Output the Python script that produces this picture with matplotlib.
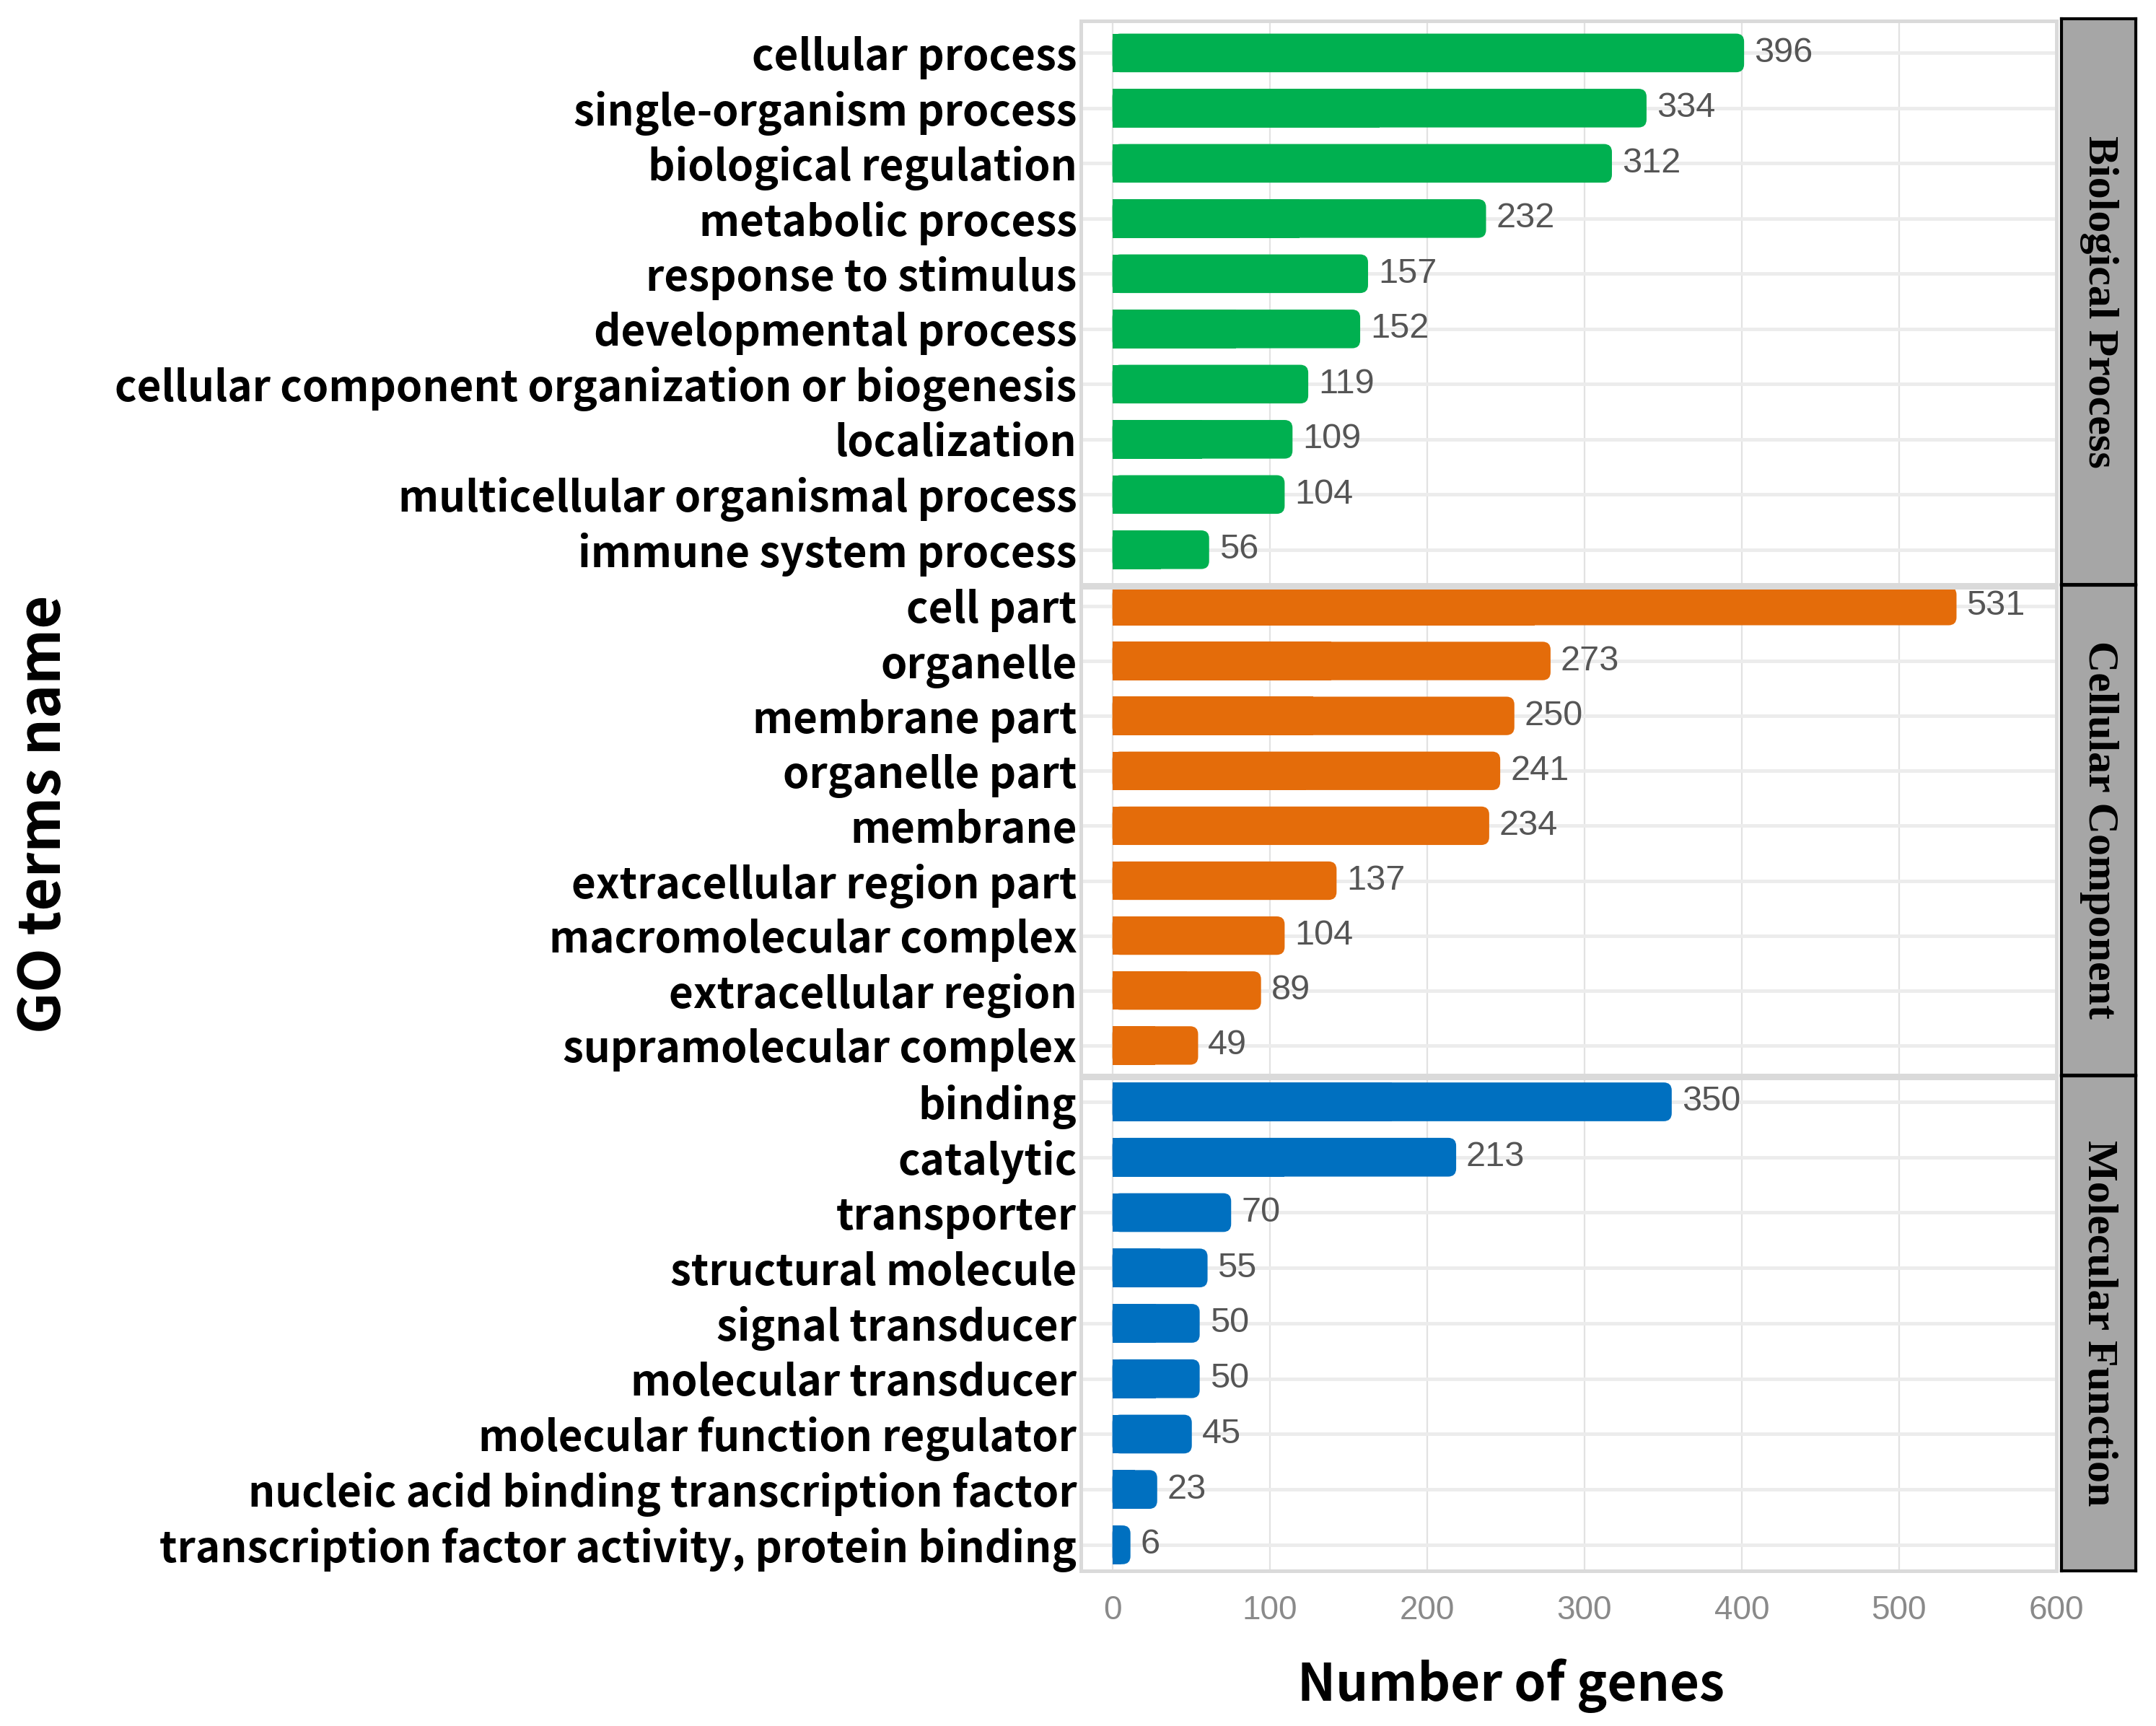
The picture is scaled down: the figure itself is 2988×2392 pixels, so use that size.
import matplotlib
matplotlib.use("Agg")
import matplotlib.pyplot as plt
from matplotlib.patches import FancyBboxPatch, Rectangle

# GO categories, top to bottom
bp_terms = ["cellular process", "single-organism process", "biological regulation",
            "metabolic process", "response to stimulus", "developmental process",
            "cellular component organization or biogenesis", "localization",
            "multicellular organismal process", "immune system process"]
bp_counts = [396, 334, 312, 232, 157, 152, 119, 109, 104, 56]

cc_terms = ["cell part", "organelle", "membrane part", "organelle part", "membrane",
            "extracellular region part", "macromolecular complex", "extracellular region",
            "supramolecular complex"]
cc_counts = [531, 273, 250, 241, 234, 137, 104, 89, 49]

mf_terms = ["binding", "catalytic", "transporter", "structural molecule", "signal transducer",
            "molecular transducer", "molecular function regulator",
            "nucleic acid binding transcription factor",
            "transcription factor activity, protein binding"]
mf_counts = [350, 213, 70, 55, 50, 50, 45, 23, 6]

categories = ["Biological Process", "Cellular Component", "Molecular Function"]
colors = ["#00B050", "#E46C0A", "#0070C0"]
x_ticks = [0, 100, 200, 300, 400, 500, 600]

W, H = 2988, 2392
fig = plt.figure(figsize=(W / 100, H / 100), dpi=100)
renderer = fig.canvas.get_renderer()

LABEL_FONT = ["Noto Sans CJK SC", "DejaVu Sans"]


def px_axes(left, top, right, bottom):
    return fig.add_axes([left / W, 1 - bottom / H, (right - left) / W, (bottom - top) / H])


def fit(text, target, vertical=False):
    bb = text.get_window_extent(renderer)
    size = bb.height if vertical else bb.width
    text.set_fontsize(text.get_fontsize() * target / size)
    return text.get_fontsize()


# panel boxes in pixels (top, bottom) and y-limits (rows are 0..n-1)
panel_x = (1498, 2850)
strip_x = (2857, 2960)
panels = [(29, 810, 9.63, -0.58), (814, 1490, 8.54, -0.34), (1494, 2177, 8.47, -0.43)]
groups = [(bp_terms, bp_counts), (cc_terms, cc_counts), (mf_terms, mf_counts)]

CAP = 5.5           # rounded end sticks out past the value
BAR_H = 0.7
px_per_x = (panel_x[1] - panel_x[0]) / 620.0
px_per_y = 76.5
rad_x = 11 / px_per_x
aspect = (11 / px_per_y) / rad_x

axes = []
strip_texts = []
for k, ((terms, counts), (top, bot, ylo, yhi)) in enumerate(zip(groups, panels)):
    ax = px_axes(panel_x[0], top, panel_x[1], bot)
    axes.append(ax)
    ax.set_xlim(-20, 600)
    ax.set_ylim(ylo, yhi)
    ax.set_axisbelow(True)
    ax.set_xticks(x_ticks)
    ax.set_yticks(range(len(terms)))
    ax.set_yticklabels(terms, fontweight="bold", family=LABEL_FONT, fontsize=40)
    ax.grid(axis="x", color="#e2e2e2", lw=1.6, zorder=0)
    ax.grid(axis="y", color="#ececec", lw=3.5, zorder=0)
    ax.tick_params(length=0, pad=4)
    for s in ax.spines.values():
        s.set_color("#dadada")
        s.set_linewidth(3.6)
    if k < 2:
        ax.set_xticklabels([])
    else:
        ax.tick_params(axis="x", pad=24, labelsize=33, labelcolor="#8a8a8a")
        for t in ax.get_xticklabels():
            t.set_family("Liberation Sans")

    for i, v in enumerate(counts):
        w = v + CAP
        ax.add_patch(FancyBboxPatch((0, i - BAR_H / 2), w, BAR_H,
                                    boxstyle=f"round,pad=0,rounding_size={min(rad_x, w / 2)}",
                                    mutation_aspect=aspect, fc=colors[k], ec="none", zorder=2))
        ax.add_patch(Rectangle((0, i - BAR_H / 2), w / 2, BAR_H, fc=colors[k], ec="none", zorder=2))
        ax.annotate(str(v), xy=(w, i), xytext=(10, 0), textcoords="offset points",
                    ha="left", va="center", fontsize=35, color="#555555",
                    family="Liberation Sans", zorder=3)

    # facet strip
    sax = px_axes(strip_x[0], top - 3, strip_x[1], bot)
    sax.set_facecolor("#a6a6a6")
    sax.set_xticks([])
    sax.set_yticks([])
    for s in sax.spines.values():
        s.set_color("black")
        s.set_linewidth(3)
    st = sax.text(0.5, 0.5, categories[k], transform=sax.transAxes, rotation=-90,
                  ha="center", va="center", fontsize=40, fontweight="bold",
                  family="Liberation Serif", color="black")
    strip_texts.append(st)

# strip text: same size for all three, fitted on the middle one
strip_size = fit(strip_texts[1], 525, vertical=True)
for st in strip_texts:
    st.set_fontsize(strip_size)

# y tick labels: fit the longest one to its width in the reference
longest = axes[0].get_yticklabels()[6]
label_size = fit(longest, 1334)
for ax in axes:
    for t in ax.get_yticklabels():
        t.set_fontsize(label_size)

ylab = fig.text(61 / W, 1 - 1128 / H, "GO terms name", rotation=90, ha="center", va="center",
                fontweight="bold", family=LABEL_FONT, fontsize=60)
fit(ylab, 608, vertical=True)
xlab = fig.text(2094 / W, 1 - 2336 / H, "Number of genes", ha="center", va="center",
                fontweight="bold", family=LABEL_FONT, fontsize=45)
fit(xlab, 592)

fig.savefig("out.png", dpi=100, facecolor="white")
